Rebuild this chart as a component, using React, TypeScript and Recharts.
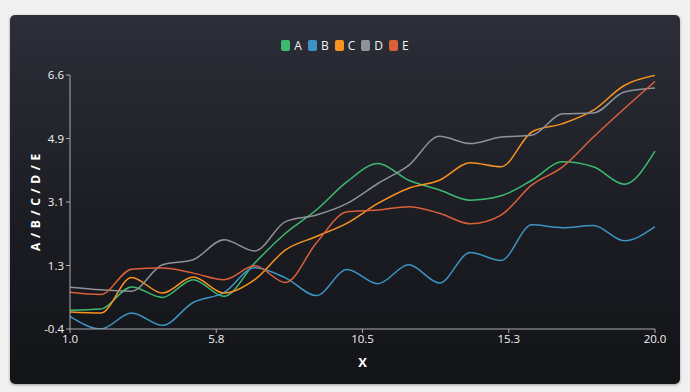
import { LineChart, Line, XAxis, YAxis, Legend } from 'recharts'

const xValues = [1, 2, 3, 4, 5, 6, 7, 8, 9, 10, 11, 12, 13, 14, 15, 16, 17, 18, 19, 20]
const seriesA = [0.12, 0.15, 0.76, 0.47, 0.96, 0.5, 1.42, 2.24, 2.88, 3.66, 4.16, 3.7, 3.43, 3.15, 3.27, 3.7, 4.21, 4.07, 3.59, 4.5]
const seriesB = [-0.05, -0.4, 0.04, -0.3, 0.33, 0.6, 1.29, 1.01, 0.52, 1.24, 0.85, 1.37, 0.87, 1.71, 1.49, 2.47, 2.39, 2.45, 2.03, 2.42]
const seriesC = [0.07, 0.04, 1.02, 0.59, 1.03, 0.59, 0.96, 1.78, 2.15, 2.52, 3.06, 3.48, 3.7, 4.18, 4.07, 5.03, 5.26, 5.63, 6.31, 6.59]
const seriesD = [0.75, 0.68, 0.64, 1.37, 1.51, 2.06, 1.75, 2.56, 2.74, 3.06, 3.61, 4.11, 4.91, 4.71, 4.89, 4.94, 5.53, 5.55, 6.13, 6.24]
const seriesE = [0.61, 0.55, 1.25, 1.28, 1.14, 0.96, 1.34, 0.88, 1.97, 2.83, 2.88, 2.97, 2.79, 2.5, 2.74, 3.57, 4.07, 4.89, 5.67, 6.42]

const seriesNames = ['A', 'B', 'C', 'D', 'E']
const seriesColors = ['#3dba6f', '#3d94c4', '#f7931e', '#8f9199', '#d9603b']

const xTicks = [1, 5.75, 10.5, 15.25, 20]
const xTickLabels = ['1.0', '5.8', '10.5', '15.3', '20.0']
const yTicks = [-0.4, 1.35, 3.1, 4.85, 6.6]
const yTickLabels = ['-0.4', '1.3', '3.1', '4.9', '6.6']

const chartData = xValues.map((x, i) => ({
  x,
  A: seriesA[i],
  B: seriesB[i],
  C: seriesC[i],
  D: seriesD[i],
  E: seriesE[i],
}))

const font = '"Open Sans", "Noto Sans", sans-serif'

function LegendContent() {
  return (
    <div style={{ display: 'flex', justifyContent: 'center', gap: 6, fontFamily: font, fontSize: 12, color: '#f2f2f2' }}>
      {seriesNames.map((name, i) => (
        <div key={name} style={{ display: 'flex', alignItems: 'center', gap: 4 }}>
          <span style={{ width: 9, height: 11, borderRadius: 2, background: seriesColors[i], display: 'inline-block' }} />
          <span>{name}</span>
        </div>
      ))}
    </div>
  )
}

export default function App() {
  return (
    <div style={{ position: 'absolute', left: 0, top: 0, width: 690, height: 392, background: '#f0f0f0' }}>
      <div
        style={{
          position: 'absolute',
          left: 10,
          top: 15,
          width: 670,
          height: 369,
          borderRadius: 5,
          background: 'linear-gradient(to bottom, #2c2e38 0%, #1c1d23 55%, #131418 100%)',
          boxShadow: '0 1px 3px rgba(0,0,0,0.35)',
          overflow: 'hidden',
        }}
      >
        <LineChart width={670} height={369} data={chartData} margin={{ top: 43, right: 25, left: 0, bottom: 0 }}>
          <Legend verticalAlign="top" content={<LegendContent />} wrapperStyle={{ top: 22, left: 0, width: 670 }} />
          <XAxis
            dataKey="x"
            type="number"
            domain={[1, 20]}
            ticks={xTicks}
            tickFormatter={(v: number) => xTickLabels[xTicks.indexOf(v)] ?? String(v)}
            height={55}
            stroke="#a9abb0"
            tick={{ fill: '#f2f2f2', fontSize: 11.5, fontFamily: font }}
            tickSize={4}
            label={{ value: 'X', position: 'insideBottom', offset: 17, fill: '#ffffff', fontSize: 13, fontWeight: 700, fontFamily: font }}
          />
          <YAxis
            type="number"
            domain={[-0.4, 6.6]}
            ticks={yTicks}
            tickFormatter={(v: number) => yTickLabels[yTicks.indexOf(v)] ?? String(v)}
            width={60}
            allowDataOverflow
            stroke="#a9abb0"
            tick={{ fill: '#f2f2f2', fontSize: 11.5, fontFamily: font }}
            tickSize={4}
            label={{
              value: 'A / B / C / D / E',
              angle: -90,
              position: 'insideLeft',
              offset: 26,
              style: { textAnchor: 'middle', fill: '#ffffff', fontSize: 12, fontWeight: 700, letterSpacing: 0.8, fontFamily: font },
            }}
          />
          {seriesNames.map((name, i) => (
            <Line
              key={name}
              type="monotone"
              dataKey={name}
              stroke={seriesColors[i]}
              strokeWidth={1.5}
              dot={false}
              activeDot={false}
              isAnimationActive={false}
            />
          ))}
        </LineChart>
      </div>
    </div>
  )
}
